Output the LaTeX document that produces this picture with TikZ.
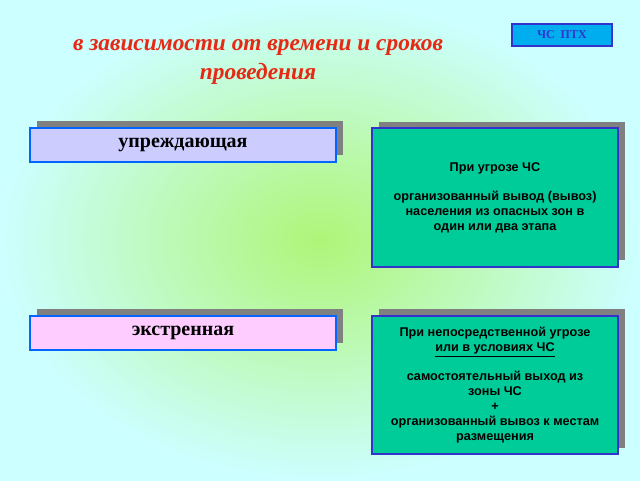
\documentclass[tikz,border=0pt]{standalone}
\usepackage{fontspec}
\setmainfont{Liberation Serif}
\newfontfamily\boxfont{Liberation Sans}
\usetikzlibrary{positioning, shadows}
\definecolor{bgcyan}{RGB}{204,255,255}
\definecolor{bggreen}{RGB}{175,245,120}
\definecolor{lilac}{RGB}{204,204,255}
\definecolor{pinkish}{RGB}{255,204,255}
\definecolor{sea}{RGB}{0,204,153}
\definecolor{edgeblue}{RGB}{0,102,255}
\definecolor{deepblue}{RGB}{51,51,204}
\definecolor{titlered}{RGB}{230,40,20}
\tikzset{
    kind/.style={draw=edgeblue, line width=1.5pt, minimum width=229.5pt, minimum height=25.5pt,
        font=\fontsize{15}{17}\selectfont\bfseries, inner sep=0pt,
        drop shadow={shadow xshift=5.5pt, shadow yshift=5pt, fill=gray, opacity=1}},
    action/.style={draw=deepblue, fill=sea, line width=1.5pt, minimum width=184.5pt, minimum height=104pt,
        align=center, font=\boxfont\fontsize{9.5}{11.2}\selectfont\bfseries, inner sep=1pt,
        drop shadow={shadow xshift=5.5pt, shadow yshift=5pt, fill=gray, opacity=1}},
}
\begin{document}
\begin{tikzpicture}[x=0.75pt, y=-0.75pt]
    % background
    \shade[inner color=bggreen, outer color=bgcyan] (0,0) rectangle (640,480);
    \useasboundingbox (0,0) rectangle (640,480);

    \node[draw=deepblue, fill=cyan, line width=1pt, minimum width=75pt, minimum height=16.5pt,
        font=\fontsize{9}{10}\selectfont\bfseries, text=deepblue] (tag) at (562,35) {ЧС\enspace ПТХ};
    \node[align=center, text=titlered, font=\fontsize{17.5}{22}\selectfont\bfseries\itshape] (title) at (258,62)
        {в зависимости от времени и сроков\\проведения};

    \node[kind, fill=lilac] (early) at (183,145) {\raisebox{2pt}{упреждающая}};
    \node[kind, fill=pinkish] (urgent) at (183,332.5) {\raisebox{2pt}{экстренная}};

    \node[action] (threat) at (495,197.5)
        {При угрозе ЧС\\[1.1em]организованный вывод (вывоз)\\населения из опасных зон в\\один или два этапа};
    \node[action] (direct) at (495,385)
        {При непосредственной угрозе\\\underline{или в условиях ЧС}\\[1.1em]самостоятельный выход из\\зоны ЧС\\+\\организованный вывоз к местам\\размещения};
\end{tikzpicture}
\end{document}
